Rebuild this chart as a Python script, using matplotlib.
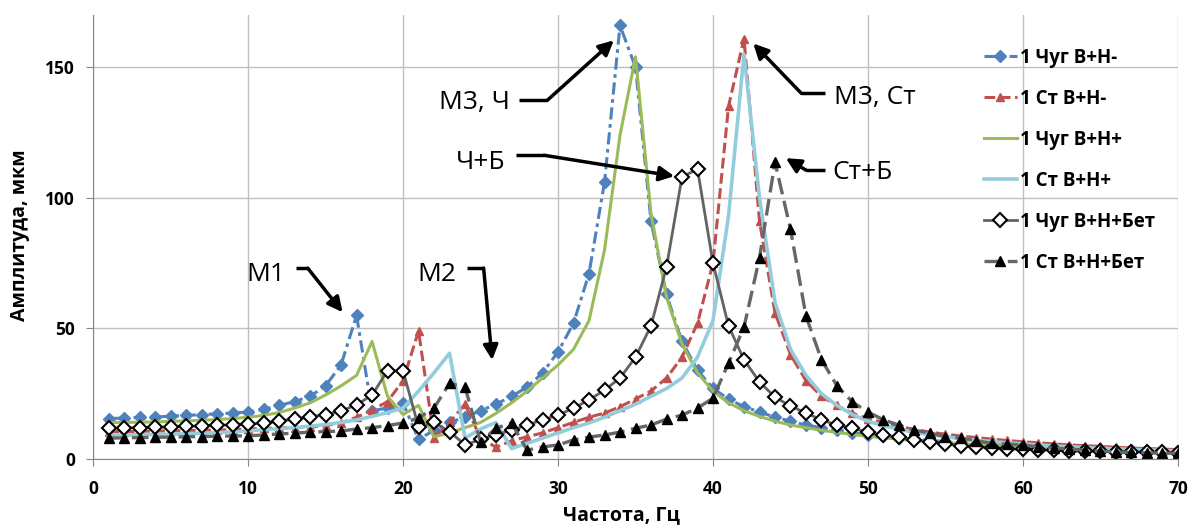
import matplotlib
matplotlib.use('Agg')
import matplotlib.pyplot as plt

# ------------------------------- Data ---------------------------------------
freq = list(range(1, 71))

chug_vn_minus = [15.5, 15.7, 15.9, 16.1, 16.4, 16.7, 17.0, 17.3, 17.6, 18.0,
                 19.0, 20.5, 22.0, 24.0, 28.0, 36.0, 55.0, 18.5, 19.5, 21.5,
                 7.5, 11.0, 14.0, 16.0, 18.5, 21.0, 24.0, 27.5, 33.0, 41.0,
                 52.0, 71.0, 106.0, 166.0, 150.0, 91.0, 63.0, 45.0, 34.0, 27.0,
                 23.0, 20.0, 18.0, 16.0, 14.5, 13.0, 12.0, 11.0, 10.0, 9.3,
                 8.7, 8.1, 7.6, 7.1, 6.7, 6.3, 5.9, 5.6, 5.3, 5.0,
                 4.7, 4.5, 4.2, 4.0, 3.8, 3.6, 3.4, 3.2, 3.1, 2.9]

st_vn_minus = [10.5, 10.5, 10.6, 10.7, 10.8, 10.9, 11.0, 11.1, 11.3, 11.5,
               11.7, 11.9, 12.0, 12.2, 12.8, 13.8, 16.0, 18.7, 22.0, 30.0,
               49.0, 8.0, 14.0, 21.0, 8.0, 4.5, 7.0, 8.5, 10.0, 12.0,
               14.0, 16.0, 17.6, 20.0, 23.0, 26.0, 31.0, 39.0, 52.0, 75.0,
               135.0, 161.0, 91.0, 56.0, 40.0, 30.0, 24.0, 20.5, 17.5, 15.5,
               14.0, 12.5, 11.3, 10.3, 9.5, 8.8, 8.2, 7.6, 7.1, 6.6,
               6.2, 5.8, 5.4, 5.1, 4.8, 4.5, 4.2, 4.0, 3.8, 3.6]

chug_vn_plus = [14.0, 14.0, 14.1, 14.2, 14.4, 14.6, 14.8, 15.1, 15.5, 16.0,
                16.7, 17.8, 19.5, 21.5, 24.5, 28.0, 32.0, 45.0, 24.0, 17.0,
                20.5, 8.5, 10.0, 12.0, 14.0, 17.5, 21.5, 26.0, 31.0, 36.0,
                42.0, 53.0, 80.0, 124.0, 154.0, 94.0, 62.0, 44.0, 33.0, 26.0,
                21.5, 18.5, 16.3, 14.5, 13.0, 12.0, 11.0, 10.2, 9.4, 8.7,
                8.1, 7.6, 7.1, 6.7, 6.3, 5.9, 5.5, 5.2, 4.9, 4.6,
                4.4, 4.1, 3.9, 3.7, 3.5, 3.3, 3.1, 3.0, 2.8, 2.7]

st_vn_plus = [9.2, 9.2, 9.3, 9.4, 9.5, 9.7, 9.9, 10.1, 10.4, 10.8,
              11.2, 11.6, 12.0, 12.6, 13.2, 14.0, 15.0, 16.3, 17.8, 19.5,
              26.0, 33.0, 40.5, 8.0, 11.5, 14.0, 4.0, 6.0, 8.0, 10.0,
              12.0, 13.8, 16.0, 18.5, 21.0, 24.0, 27.0, 31.0, 39.0, 53.0,
              93.0, 155.0, 100.0, 60.0, 42.0, 32.0, 25.0, 20.5, 17.0, 14.5,
              12.8, 11.4, 10.2, 9.3, 8.5, 7.8, 7.2, 6.7, 6.2, 5.8,
              5.4, 5.0, 4.7, 4.4, 4.1, 3.9, 3.7, 3.5, 3.3, 3.1]

chug_vn_bet = [11.8, 11.9, 12.0, 12.1, 12.3, 12.5, 12.7, 12.9, 13.1, 13.4,
               13.7, 14.5, 15.3, 16.2, 17.0, 18.4, 20.7, 24.5, 33.8, 33.8,
               12.3, 14.0, 10.5, 5.4, 7.5, 9.3, 11.0, 13.0, 15.0, 16.8,
               19.5, 22.6, 26.4, 31.0, 39.0, 51.0, 73.5, 108.0, 111.0, 75.0,
               51.0, 38.0, 29.5, 23.7, 20.3, 17.6, 15.0, 13.0, 11.8, 10.2,
               9.1, 8.4, 7.3, 6.6, 5.8, 5.1, 4.7, 4.3, 3.9, 3.7,
               3.5, 3.3, 3.2, 3.0, 2.9, 2.8, 2.7, 2.6, 2.5, 2.4]

st_vn_bet = [8.0, 8.1, 8.2, 8.3, 8.4, 8.5, 8.6, 8.7, 8.8, 8.9,
             9.2, 9.6, 9.9, 10.3, 10.5, 10.7, 11.5, 12.0, 12.8, 13.8,
             15.7, 19.5, 29.0, 27.5, 6.5, 11.8, 13.8, 3.4, 4.6, 5.4,
             7.3, 8.4, 9.2, 10.3, 11.8, 13.0, 15.3, 16.8, 19.5, 23.3,
             36.7, 50.5, 77.0, 113.6, 88.0, 54.7, 38.0, 28.0, 21.8, 18.0,
             15.0, 13.0, 11.0, 10.0, 8.6, 8.0, 7.0, 6.0, 5.7, 5.4,
             4.6, 4.2, 3.8, 3.4, 3.0, 2.7, 2.5, 2.4, 2.2, 2.2]

labels = ['1 Чуг В+Н-', '1 Ст В+Н-', '1 Чуг В+Н+', '1 Ст В+Н+',
          '1 Чуг В+Н+Бет', '1 Ст В+Н+Бет']

# callouts: text, anchor of text, alignment, arrow polyline (last point = tip)
notes = [
    ('М1', (12.4, 70.8), 'right', [(13.1, 73.1), (13.85, 73.1), (16.1, 56.2)]),
    ('М2', (23.45, 70.8), 'right', [(24.1, 73.1), (25.2, 73.1), (25.75, 37.9)]),
    ('М3, Ч', (26.9, 136.6), 'right', [(27.5, 137.3), (29.3, 137.3), (33.6, 160.3)]),
    ('Ч+Б', (26.6, 113.6), 'right', [(27.3, 116.3), (29.1, 116.3), (37.5, 108.3)]),
    ('М3, Ст', (47.8, 138.5), 'left', [(47.2, 140.0), (45.7, 140.0), (42.6, 159.1)]),
    ('Ст+Б', (47.7, 109.8), 'left', [(47.2, 110.6), (46.0, 110.6), (44.7, 115.2)]),
]

# ------------------------------- Chart --------------------------------------
plt.rcParams['font.family'] = ['Open Sans', 'DejaVu Sans']

fig = plt.figure(figsize=(11.93, 5.27), dpi=100)
ax = fig.add_axes([0.078, 0.129, 0.9094, 0.8425])

ax.plot(freq, chug_vn_minus, color='#4F81BD', lw=2.2,
        linestyle=(0, (4, 1.5, 1.2, 1.5)), marker='D', markersize=6,
        markerfacecolor='#4F81BD', markeredgecolor='#4F81BD', label=labels[0])
ax.plot(freq, st_vn_minus, color='#C0504D', lw=2.2, linestyle=(0, (3.5, 1.5)),
        marker='^', markersize=5.5, markerfacecolor='#C0504D',
        markeredgecolor='#C0504D', label=labels[1])
ax.plot(freq, chug_vn_plus, color='#9BBB59', lw=2.2, label=labels[2])
ax.plot(freq, st_vn_plus, color='#93CDDD', lw=2.6, label=labels[3])
ax.plot(freq, chug_vn_bet, color='#636363', lw=2.0, marker='D', markersize=7.5,
        markerfacecolor='white', markeredgecolor='black', markeredgewidth=1.5,
        label=labels[4])
ax.plot(freq, st_vn_bet, color='#666666', lw=2.4, linestyle=(0, (5, 2)),
        marker='^', markersize=6.5, markerfacecolor='black',
        markeredgecolor='black', label=labels[5])

ax.set_xlim(0, 70)
ax.set_ylim(0, 170)
ax.set_xticks(range(0, 71, 10))
ax.set_yticks([0, 50, 100, 150])
ax.grid(True, color='#BFBFBF', lw=1)
ax.set_axisbelow(True)
for s in ['top', 'right']:
    ax.spines[s].set_visible(False)
for s in ['left', 'bottom']:
    ax.spines[s].set_color('#868686')
ax.tick_params(direction='out', length=5, color='#868686', labelsize=12.5)
ax.tick_params(axis='x', pad=10)
ax.tick_params(axis='y', pad=8)
for t in ax.get_xticklabels() + ax.get_yticklabels():
    t.set_fontweight('bold')

fig.text(0.521, 0.022, 'Частота, Гц', ha='center', va='center',
         fontsize=14, fontweight='bold')
fig.text(0.017, 0.553, 'Амплитуда, мкм', ha='center', va='center',
         rotation=90, fontsize=14, fontweight='bold')

for txt, pos, align, path in notes:
    ax.text(pos[0], pos[1], txt, fontsize=19, ha=align, va='center')
    xs = [p[0] for p in path[:-1]]
    ys = [p[1] for p in path[:-1]]
    ax.plot(xs, ys, color='black', lw=2.5, solid_capstyle='butt')
    ax.annotate('', xy=path[-1], xytext=path[-2],
                arrowprops=dict(arrowstyle='-|>', color='black', lw=2.5,
                                mutation_scale=22, shrinkA=0, shrinkB=0))

leg = fig.legend(loc='upper left', bbox_to_anchor=(0.817, 0.927),
                 frameon=False, labelspacing=1.12,
                 handlelength=1.75, handletextpad=0.15, borderpad=0,
                 prop={'weight': 'bold', 'size': 13.5})

fig.savefig('out.png', dpi=100)
